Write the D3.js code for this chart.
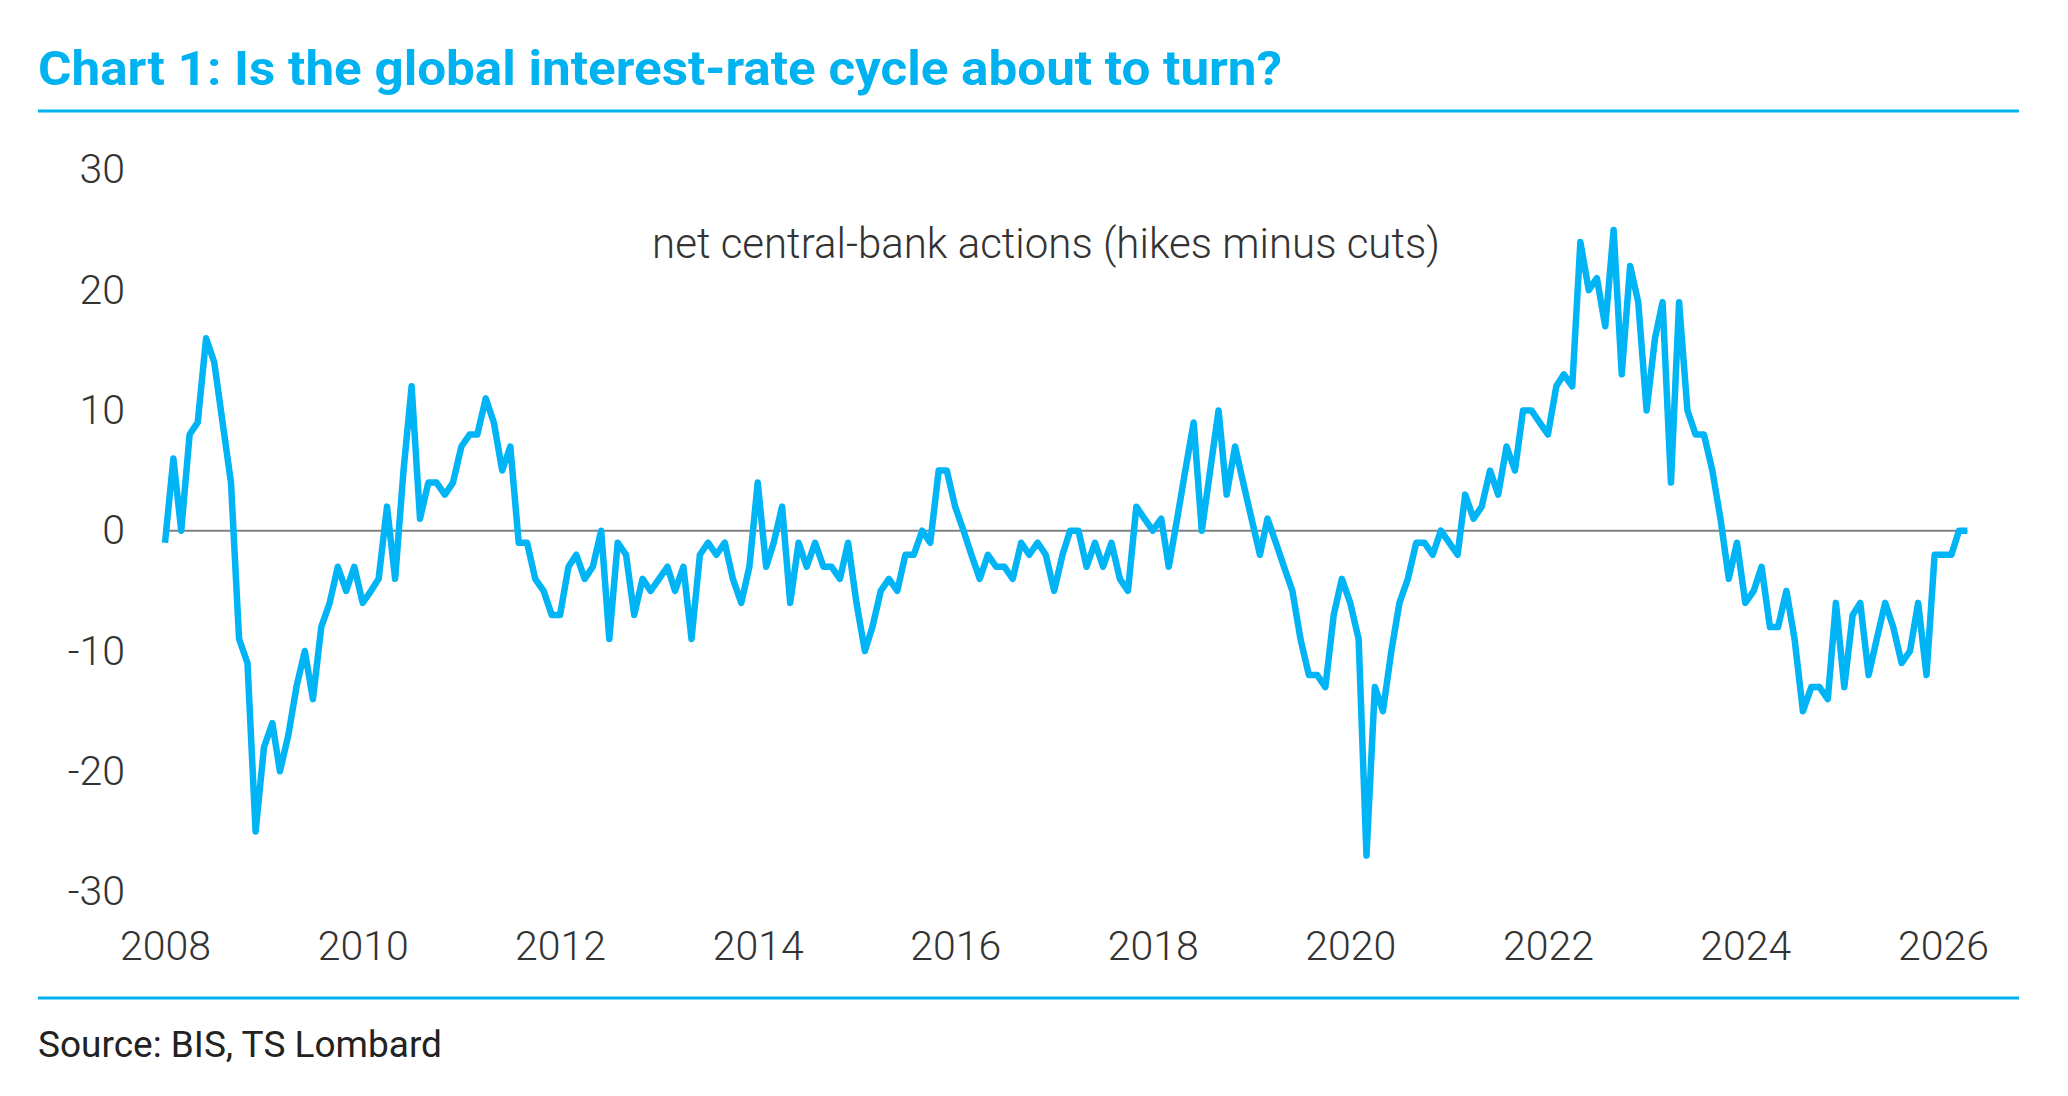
<!DOCTYPE html>
<html>
<head>
<meta charset="utf-8">
<script src="https://cdn.jsdelivr.net/npm/d3@7"></script>
<style>
  body { margin: 0; background: #fff; }
  svg { display: block; }
</style>
</head>
<body>
<svg width="2068" height="1096"></svg>
<script>
// monthly net central-bank actions, Jan 2008 onwards
const netActions = [
  -1, 6, 0, 8, 9, 16, 14, 9, 4, -9, -11, -25,
  -18, -16, -20, -17, -13, -10, -14, -8, -6, -3, -5, -3,
  -6, -5, -4, 2, -4, 5, 12, 1, 4, 4, 3, 4,
  7, 8, 8, 11, 9, 5, 7, -1, -1, -4, -5, -7,
  -7, -3, -2, -4, -3, 0, -9, -1, -2, -7, -4, -5,
  -4, -3, -5, -3, -9, -2, -1, -2, -1, -4, -6, -3,
  4, -3, -1, 2, -6, -1, -3, -1, -3, -3, -4, -1,
  -6, -10, -8, -5, -4, -5, -2, -2, 0, -1, 5, 5,
  2, 0, -2, -4, -2, -3, -3, -4, -1, -2, -1, -2,
  -5, -2, 0, 0, -3, -1, -3, -1, -4, -5, 2, 1,
  0, 1, -3, 1, 5, 9, 0, 5, 10, 3, 7, 4,
  1, -2, 1, -1, -3, -5, -9, -12, -12, -13, -7, -4,
  -6, -9, -27, -13, -15, -10, -6, -4, -1, -1, -2, 0,
  -1, -2, 3, 1, 2, 5, 3, 7, 5, 10, 10, 9,
  8, 12, 13, 12, 24, 20, 21, 17, 25, 13, 22, 19,
  10, 16, 19, 4, 19, 10, 8, 8, 5, 1, -4, -1,
  -6, -5, -3, -8, -8, -5, -9, -15, -13, -13, -14, -6,
  -13, -7, -6, -12, -9, -6, -8, -11, -10, -6, -12, -2,
  -2, -2, 0, 0
];
const firstMonth = "2008-01";
const yearTicks = [2008, 2010, 2012, 2014, 2016, 2018, 2020, 2022, 2024, 2026];
const valueTicks = [-30, -20, -10, 0, 10, 20, 30];

const titleText = "Chart 1: Is the global interest-rate cycle about to turn?";
const seriesLabel = "net central-bank actions (hikes minus cuts)";
const sourceText = "Source: BIS, TS Lombard";

const width = 2068;
const height = 1096;
const blue = "#00b2f0";

const svg = d3.select("svg");
svg.append("rect").attr("width", width).attr("height", height).attr("fill", "#fff");

const start = d3.timeParse("%Y-%m")(firstMonth);
const data = netActions.map((v, i) => ({ date: d3.timeMonth.offset(start, i), value: v }));

const xScale = d3.scaleTime()
  .domain([new Date(2008, 0, 1), new Date(2026, 0, 1)])
  .range([165, 1943]);

const yScale = d3.scaleLinear()
  .domain([-30, 30])
  .range([891.6, 169.8]);

// header + footer rules
svg.append("line")
  .attr("x1", 38).attr("x2", 2019).attr("y1", 111).attr("y2", 111)
  .attr("stroke", blue).attr("stroke-width", 3);
svg.append("line")
  .attr("x1", 38).attr("x2", 2019).attr("y1", 998).attr("y2", 998)
  .attr("stroke", blue).attr("stroke-width", 3);

svg.append("text")
  .attr("x", 38).attr("y", 85)
  .attr("font-family", "Roboto, Arial, sans-serif")
  .attr("font-weight", 700)
  .attr("font-size", 49)
  .attr("fill", blue)
  .attr("textLength", 1244)
  .attr("lengthAdjust", "spacingAndGlyphs")
  .text(titleText);

// axes
const xAxis = d3.axisBottom(xScale)
  .tickValues(yearTicks.map(y => new Date(y, 0, 1)))
  .tickFormat(d3.timeFormat("%Y"))
  .tickSize(0)
  .tickPadding(39);

const yAxis = d3.axisLeft(yScale)
  .tickValues(valueTicks)
  .tickFormat(d => String(d))
  .tickSize(0)
  .tickPadding(40);

const gx = svg.append("g")
  .attr("transform", `translate(0, ${yScale(-30)})`)
  .call(xAxis);
const gy = svg.append("g")
  .attr("transform", `translate(${xScale(new Date(2008, 0, 1))}, 0)`)
  .call(yAxis);

[gx, gy].forEach(g => {
  g.select(".domain").remove();
  g.selectAll("text")
    .attr("font-family", "Roboto, sans-serif")
    .attr("font-weight", 300)
    .attr("font-size", 41)
    .attr("fill", "#333");
});

// zero line
svg.append("line")
  .attr("x1", xScale(data[0].date))
  .attr("x2", xScale(data[data.length - 1].date))
  .attr("y1", yScale(0)).attr("y2", yScale(0))
  .attr("stroke", "#808080").attr("stroke-width", 2);

const line = d3.line()
  .x(d => xScale(d.date))
  .y(d => yScale(d.value));

svg.append("path")
  .attr("d", line(data))
  .attr("fill", "none")
  .attr("stroke", "#00b4f5")
  .attr("stroke-width", 6.5)
  .attr("stroke-linejoin", "round");

svg.append("text")
  .attr("x", 1046).attr("y", 258)
  .attr("text-anchor", "middle")
  .attr("font-family", "Roboto, sans-serif")
  .attr("font-weight", 300)
  .attr("font-size", 42)
  .attr("fill", "#333")
  .text(seriesLabel);

svg.append("text")
  .attr("x", 38).attr("y", 1057)
  .attr("font-family", "Roboto, sans-serif")
  .attr("font-weight", 400)
  .attr("font-size", 37)
  .attr("fill", "#222")
  .text(sourceText);
</script>
</body>
</html>
